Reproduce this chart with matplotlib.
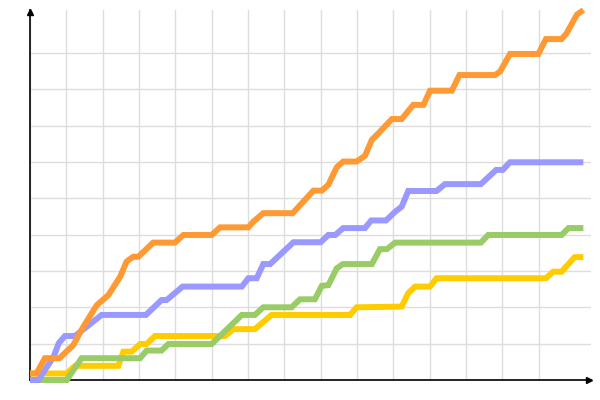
import matplotlib.pyplot as plt

# values, in grid units
orange_x = [0, 0.18, 0.41, 0.81, 1.19, 1.47, 1.84, 2.16, 2.48, 2.66, 2.84, 2.98, 3.39, 3.99, 4.22, 5.00,
            5.23, 6.01, 6.15, 6.42, 7.23, 7.80, 8.03, 8.21, 8.44, 8.62, 8.99, 9.22, 9.41, 9.59, 9.96,
            10.23, 10.55, 10.83, 11.01, 11.61, 11.82, 12.80, 12.94, 13.21, 13.99, 14.20, 14.63, 14.77,
            15.05, 15.23]
orange_y = [0.18, 0.18, 0.60, 0.60, 0.96, 1.47, 2.06, 2.34, 2.84, 3.26, 3.39, 3.39, 3.78, 3.78, 3.99, 3.99,
            4.20, 4.20, 4.36, 4.59, 4.59, 5.21, 5.21, 5.37, 5.85, 6.01, 6.01, 6.17, 6.61, 6.79, 7.18,
            7.18, 7.57, 7.57, 7.96, 7.96, 8.39, 8.39, 8.49, 8.97, 8.97, 9.38, 9.38, 9.54,
            10.05, 10.18]

blue_x = [0, 0.23, 0.65, 0.79, 0.96, 1.24, 1.97, 3.19, 3.62, 3.76, 4.20, 5.83, 6.01, 6.24, 6.42, 6.61,
          7.25, 8.00, 8.21, 8.40, 8.62, 9.22, 9.39, 9.80, 10.05, 10.23, 10.41, 11.19, 11.42, 12.41,
          12.83, 13.01, 13.21, 15.23]
blue_y = [0, 0, 0.64, 1.01, 1.21, 1.21, 1.79, 1.79, 2.20, 2.20, 2.57, 2.57, 2.80, 2.80, 3.19, 3.19,
          3.79, 3.79, 3.99, 3.99, 4.18, 4.18, 4.39, 4.39, 4.63, 4.77, 5.20, 5.20, 5.39, 5.39,
          5.78, 5.78, 5.99, 5.99]

green_x = [0, 1.01, 1.42, 3.03, 3.21, 3.62, 3.81, 5.00, 5.83, 6.19, 6.42, 7.20, 7.43, 7.84, 8.03, 8.21,
           8.44, 8.61, 9.41, 9.63, 9.82, 10.05, 12.41, 12.61, 14.63, 14.82, 15.23]
green_y = [0, 0, 0.60, 0.60, 0.81, 0.81, 0.99, 0.99, 1.79, 1.79, 2.00, 2.00, 2.22, 2.22, 2.59, 2.61,
           3.07, 3.19, 3.19, 3.60, 3.60, 3.78, 3.78, 3.99, 3.99, 4.18, 4.18]

yellow_x = [0, 1.01, 1.24, 2.43, 2.57, 2.80, 3.03, 3.21, 3.44, 5.37, 5.60, 6.19, 6.65, 8.81, 8.99,
            10.23, 10.41, 10.60, 11.01, 11.19, 14.20, 14.40, 14.63, 14.99, 15.23]
yellow_y = [0.18, 0.18, 0.39, 0.39, 0.78, 0.78, 0.99, 0.99, 1.21, 1.21, 1.40, 1.40, 1.79, 1.79, 2.00,
            2.02, 2.39, 2.57, 2.57, 2.80, 2.80, 2.98, 2.98, 3.38, 3.38]

fig = plt.figure(figsize=(6, 4), dpi=100)
ax = fig.add_axes([30 / 600, 20 / 400, 561 / 600, 370 / 400])

lw = 4.3
style = dict(lw=lw, clip_on=False, solid_capstyle='butt', solid_joinstyle='miter')
ax.plot(yellow_x, yellow_y, color='#ffcc00', zorder=3, **style)
ax.plot(green_x, green_y, color='#99cc66', zorder=4, **style)
ax.plot(blue_x, blue_y, color='#9999ff', zorder=5, **style)
ax.plot(orange_x, orange_y, color='#ff9933', zorder=6, **style)

ax.set_xlim(0, 15.44)
ax.set_ylim(0, 10.18)
ax.set_xticks(range(0, 15))
ax.set_yticks(range(0, 10))
ax.tick_params(length=0, labelbottom=False, labelleft=False)
ax.grid(True, color='#dddddd', lw=1)
ax.set_axisbelow(True)

for side in ['top', 'right']:
    ax.spines[side].set_visible(False)
for side in ['left', 'bottom']:
    ax.spines[side].set_color('black')
    ax.spines[side].set_linewidth(1.2)
    ax.spines[side].set_zorder(2.5)

# arrow heads on the axes
ax.plot(1.0 - 0.004, 0, marker='>', color='black', markersize=5, transform=ax.transAxes,
        clip_on=False, zorder=8)
ax.plot(0, 1.0 - 0.006, marker='^', color='black', markersize=5, transform=ax.transAxes,
        clip_on=False, zorder=8)

fig.savefig('out.png', dpi=100)
